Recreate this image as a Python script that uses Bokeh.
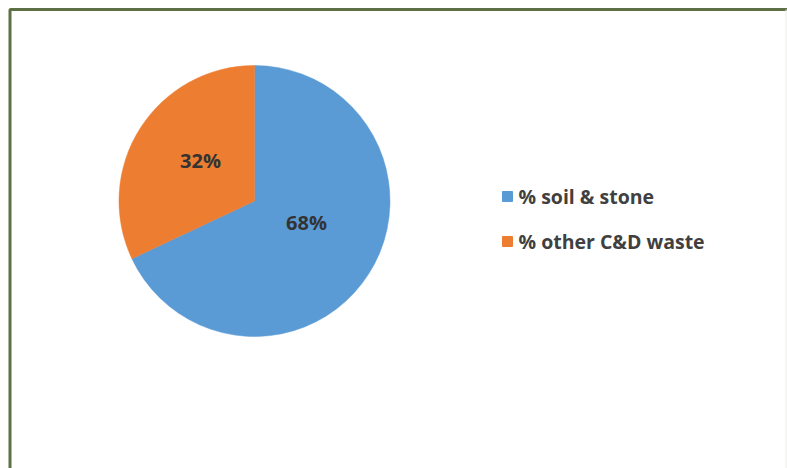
import math
from bokeh.plotting import figure
from bokeh.models import Range1d, ColumnDataSource
from bokeh.core.properties import value
from bokeh.embed import file_html
from bokeh.resources import INLINE

# ---- data ----
categories = ["% soil & stone", "% other C&D waste"]
shares = [68, 32]
colors = ["#5B9BD5", "#ED7D31"]

W, H = 787, 468
FONT = "Open Sans"
p = figure(width=W, height=H, output_backend="svg", toolbar_location=None,
           x_range=Range1d(0, W), y_range=Range1d(H, 0),
           min_border=0, min_border_left=0, min_border_right=0,
           min_border_top=0, min_border_bottom=0)
p.axis.visible = False
p.grid.visible = False
p.outline_line_color = None
p.background_fill_color = "white"
p.border_fill_color = "white"

# frame border (left, top) + faint right edge
p.line([9.5, 9.5, W], [H, 9, 9], line_color="#5f6f45", line_width=3)
p.line([785.5, 785.5], [9, H], line_color="#ecece4", line_width=1)

# pie geometry
cx, cy, r = 254, 200.5, 135.5
total = float(sum(shares))
starts, ends, mids = [], [], []
a = 90.0
for s in shares:
    sweep = 360.0 * s / total
    a_end = a - sweep  # clockwise from 12 o'clock
    starts.append(a_end)
    ends.append(a)
    mids.append((a + a_end) / 2.0)
    a = a_end

src = ColumnDataSource(dict(
    x=[cx] * len(shares), y=[cy] * len(shares),
    start=[math.radians(s) for s in starts],
    end=[math.radians(e) for e in ends],
    color=colors,
))
p.wedge(x="x", y="y", radius=r, start_angle="start", end_angle="end",
        direction="anticlock", fill_color="color", line_color="color",
        line_width=0.5, source=src)

# data labels (placed inside slices, near mid-angle)
label_r = [0.415, 0.498]
label_shift = [9.9, -4.5]
lx, ly, lt = [], [], []
for m, s, fr, sh in zip(mids, shares, label_r, label_shift):
    ang = math.radians(m + sh)
    lx.append(cx + fr * r * math.cos(ang))
    ly.append(cy - fr * r * math.sin(ang))
    lt.append(f"{s}%")
p.text(x=lx, y=ly, text=lt, text_align="center", text_baseline="middle",
       text_font=value(FONT), text_font_style="bold",
       text_font_size="20px", text_color="#333333")

# legend (manual)
leg_x, leg_y0, leg_dy = 507, 196, 45
mx = [leg_x] * len(categories)
my = [leg_y0 + i * leg_dy for i in range(len(categories))]
p.scatter(x=mx, y=my, marker="square", size=10, fill_color=colors, line_color=colors)
p.text(x=[leg_x + 11] * len(categories), y=my, text=categories,
       text_align="left", text_baseline="middle",
       text_font=value(FONT), text_font_style="bold",
       text_font_size="19.5px", text_color="#404040")

open("out.html", "w").write(file_html(p, INLINE))
